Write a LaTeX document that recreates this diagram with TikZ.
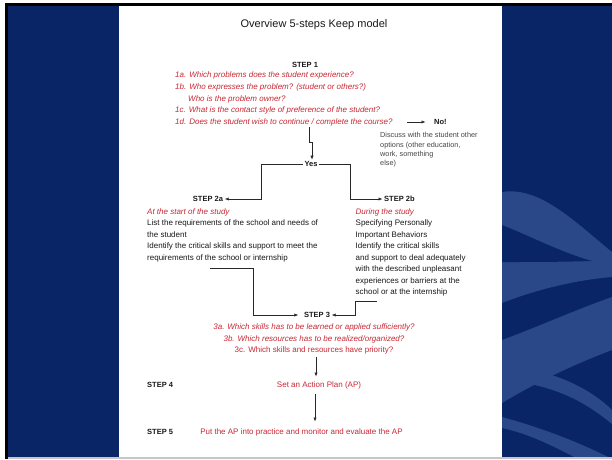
\documentclass[tikz,border=0pt]{standalone}
\usepackage{fontspec}
\setmainfont{Liberation Sans}
\usetikzlibrary{arrows.meta,calc}
\definecolor{navy}{RGB}{10,37,102}
\definecolor{swoosh}{RGB}{42,72,136}
\definecolor{kred}{RGB}{200,40,52}
\definecolor{txt}{RGB}{25,25,25}
\definecolor{linec}{RGB}{40,40,40}
\definecolor{greytxt}{RGB}{70,70,70}
\begin{document}
\begin{tikzpicture}[x=1pt,y=-1pt,
  steplbl/.style={font=\fontsize{7.5}{9}\selectfont\bfseries, text=txt, inner sep=1.5pt},
  qred/.style={font=\fontsize{8}{9.5}\selectfont\itshape, text=kred, inner sep=0pt, anchor=west},
  redup/.style={font=\fontsize{8}{9.5}\selectfont, text=kred, inner sep=2pt},
  body/.style={font=\fontsize{8}{11.5}\selectfont, text=txt, align=left, inner sep=0pt, anchor=north west},
  arr/.style={draw=linec, line width=0.6pt, -{Latex[length=4pt,width=3.2pt]}},
  sw/.style={fill=swoosh}]
\useasboundingbox (0,0) rectangle (612,459);
% background
\fill[white] (0,0) rectangle (612,459);
\fill[black] (5,3) rectangle (612,459);
\fill[navy] (8,6) rectangle (612,457);
\begin{scope}
\clip (502,6) rectangle (612,457);
\fill[sw] (502,192) .. controls (540,186) and (575,222) .. (612,252) -- (612,277) .. controls (575,280) and (535,290) .. (502,303) -- cycle;
\fill[navy] (502,225) .. controls (530,236) and (560,252) .. (592,261) .. controls (560,262) and (530,262) .. (502,262) -- cycle;
\fill[sw] (502,340) .. controls (535,328) and (575,310) .. (612,297) -- (612,350) .. controls (580,362) and (540,380) .. (502,403) -- cycle;
\fill[sw] (540,372) .. controls (575,380) and (600,398) .. (612,410) -- (612,424) .. controls (595,410) and (570,392) .. (530,384) -- cycle;
\fill[sw] (502,417) .. controls (535,426) and (575,440) .. (612,459) -- (578,459) .. controls (555,447) and (530,434) .. (502,428) -- cycle;
\end{scope}
\fill[white] (119,6) rectangle (502,457);
\fill[gray!45] (8,457) rectangle (612,459);
% title
\node[font=\fontsize{11}{13}\selectfont, text=txt] (title) at (314,25) {Overview 5-steps Keep model};
% step 1
\node[steplbl] (s1) at (305,65) {STEP 1};
\node[qred] (q1a) at (175,75.7) {1a. Which problems does the student experience?};
\node[qred] (q1b) at (175,87.5) {1b. Who expresses the problem? (student or others?)};
\node[qred] (q1bb) at (188,99) {Who is the problem owner?};
\node[qred] (q1c) at (175,110.5) {1c. What is the contact style of preference of the student?};
\node[qred] (q1d) at (175,122) {1d. Does the student wish to continue / complete the course?};
\node[steplbl, anchor=west] (no) at (432.5,122) {No!};
\node[font=\fontsize{7.3}{9.4}\selectfont, text=greytxt, align=left, inner sep=0pt, anchor=north west] (disc) at (380,132.3) {Discuss with the student other\\options (other education,\\work, something\\else)};
\coordinate (nostart) at (407,122);
\draw[arr, shorten >=7pt] (nostart) -- (no.west);
% yes
\node[steplbl] (yes) at (311,164) {Yes};
\coordinate (d1) at (309,127);
\coordinate (d2) at (309,142);
\coordinate (d3) at (312,142);
\draw[arr] (d1) -- (d2) -- (d3) -- (d3 |- yes.north);
% step 2
\node[steplbl] (s2a) at (208,199) {STEP 2a};
\node[steplbl, anchor=west] (s2b) at (382.5,199) {STEP 2b};
\coordinate (k2a) at (261,0);
\coordinate (k2b) at (350,0);
\draw[arr] (yes.west) -- (yes.west -| k2a) |- (s2a.east);
\draw[arr] (yes.east) -- (yes.east -| k2b) |- (s2b.west);
\node[body] (b2a) at (147,208) {\textcolor{kred}{\itshape At the start of the study}\\List the requirements of the school and needs of\\the student\\Identify the critical skills and support to meet the\\requirements of the school or internship};
\node[body] (b2b) at (355.5,208) {\textcolor{kred}{\itshape During the study}\\Specifying Personally\\Important Behaviors\\Identify the critical skills\\and support to deal adequately\\with the described unpleasant\\experiences or barriers at the\\school or at the internship};
% step 3
\node[steplbl] (s3) at (317,315) {STEP 3};
\coordinate (e1) at (210,268);
\coordinate (e2) at (253,268);
\draw[arr, shorten >=4pt] (e1) -- (e2) |- (s3.west);
\coordinate (f1) at (377,301);
\coordinate (f2) at (355.5,301);
\draw[arr] (f1) -- (f2) |- (s3.east);
\node[qred, anchor=center] (q3a) at (314,327) {3a. Which skills has to be learned or applied sufficiently?};
\node[qred, anchor=center] (q3b) at (314,339) {3b. Which resources has to be realized/organized?};
\node[redup, inner sep=0pt] (q3c) at (314,350.5) {3c. Which skills and resources have priority?};
% step 4
\node[steplbl, anchor=west] (s4) at (145.5,385) {STEP 4};
\node[redup] (ap) at (319,385) {Set an Action Plan (AP)};
\coordinate (a1) at (316,0);
\draw[arr, shorten <=3pt, shorten >=2.5pt] (q3c.south -| a1) -- (ap.north -| a1);
% step 5
\node[steplbl, anchor=west] (s5) at (145.5,432) {STEP 5};
\node[redup] (put) at (301.5,432) {Put the AP into practice and monitor and evaluate the AP};
\coordinate (a2) at (315,0);
\draw[arr, shorten <=3.5pt, shorten >=4.5pt] (ap.south -| a2) -- (put.north -| a2);
\end{tikzpicture}
\end{document}
